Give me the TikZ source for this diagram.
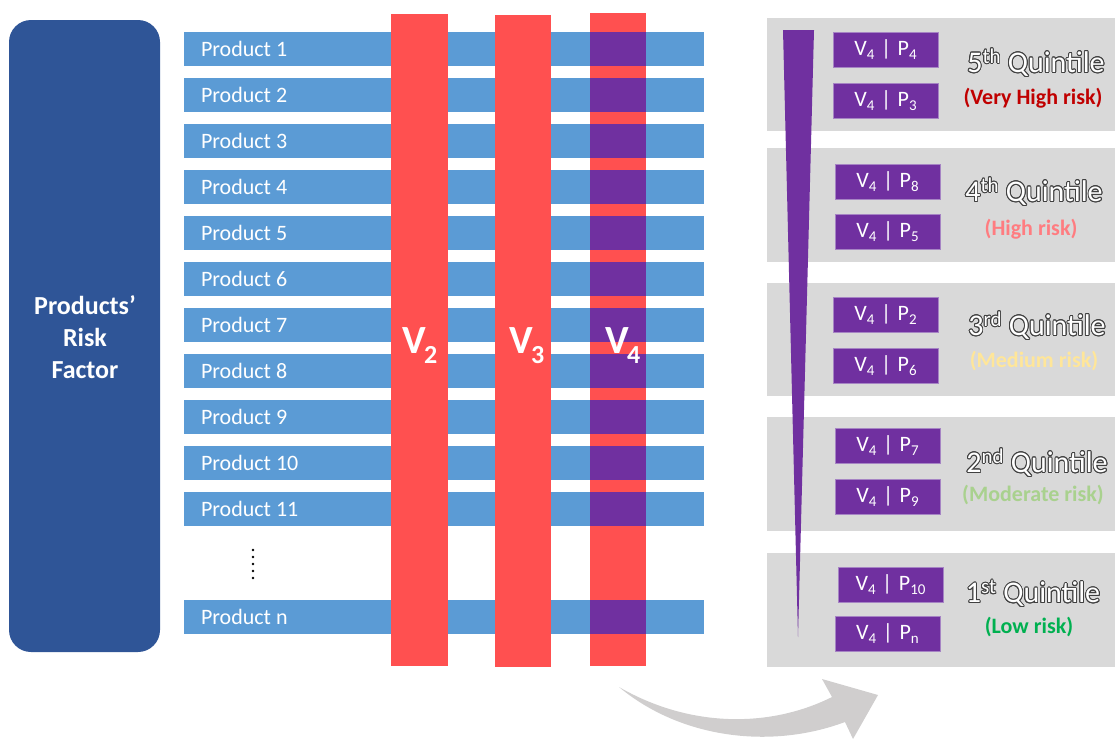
\documentclass[tikz,border=0pt]{standalone}
\usepackage{fontspec}
\setmainfont{Carlito}
\usepackage[copies]{contour}
\contourlength{0.9pt}
\contournumber{16}
\definecolor{barblue}{HTML}{5B9BD5}
\definecolor{darkblue}{HTML}{2F5597}
\definecolor{colred}{HTML}{FF5050}
\definecolor{vpurple}{HTML}{7030A0}
\definecolor{boxedge}{HTML}{A684C4}
\definecolor{panelgray}{HTML}{D9D9D9}
\definecolor{arrowgray}{HTML}{D0CECE}
\definecolor{outl}{HTML}{404040}
\definecolor{rVH}{HTML}{C00000}
\definecolor{rH}{HTML}{FF7C80}
\definecolor{rM}{HTML}{FFE699}
\definecolor{rMo}{HTML}{A9D18E}
\definecolor{rL}{HTML}{00B050}
\newcommand{\bsub}[1]{\raisebox{-4pt}{\fontsize{15}{15}\selectfont #1}}
\newcommand{\vp}[1]{V\bsub{4}\hspace{0.3em}|\hspace{0.3em}P\bsub{#1}}
\newcommand{\vsub}[1]{V\kern-1.5pt\raisebox{-10pt}{\fontsize{26}{26}\selectfont #1}}
\begin{document}
\begin{tikzpicture}[x=1pt,y=-1pt, every node/.style={inner sep=0pt, outer sep=0pt}]
\useasboundingbox (0,0) rectangle (1115,740);
\tikzset{
 bar/.style={fill=barblue, minimum width=520pt, minimum height=34pt, anchor=north west},
 prod/.style={text=white, font=\fontsize{22}{26}\selectfont, anchor=west},
 col/.style={fill=colred, minimum height=652pt, anchor=north west},
 inter/.style={fill=vpurple, minimum width=56pt, minimum height=34pt, anchor=north west},
 vlab/.style={text=white, font=\fontsize{40}{40}\selectfont\bfseries, anchor=base west},
 panel/.style={fill=panelgray, minimum width=348pt, minimum height=113pt, anchor=north west},
 vbox/.style={fill=vpurple, draw=boxedge, line width=0.7pt, minimum width=105pt, minimum height=35pt, anchor=north west, text=white, font=\fontsize{22}{22}\selectfont},
 quint/.style={text=white, font=\fontsize{30}{30}\selectfont},
 risk/.style={font=\fontsize{22}{22}\selectfont\bfseries},
}
% left box
\node[fill=darkblue, rounded corners=22pt, minimum width=151pt, minimum height=632pt, anchor=north west] (rf) at (9,20) {};
\node[text=white, align=center, font=\fontsize{26}{32}\selectfont\bfseries] (rftxt) at (85,337) {Products’\\Risk\\Factor};
% product bars
\foreach \k in {1,...,11}{
  \node[bar] (p\k) at (184,{32+46*(\k-1)}) {};
  \node[prod] (pt\k) at ([xshift=17pt]p\k.west) {Product \k};
}
\node[bar] (pn) at (184,600) {};
\node[prod] (ptn) at ([xshift=17pt]pn.west) {Product n};
% dots
\foreach \d [count=\i] in {550,557,564,571,578}{
  \fill (253,\d) circle (1.4pt) coordinate (dot\i);
}
% red columns
\node[col, minimum width=57pt] (c2) at (391,14) {};
\node[col, minimum width=56pt] (c3) at (495,15) {};
\node[col, minimum width=56pt, minimum height=653pt] (c4) at (590,13) {};
% purple intersections
\foreach \k in {1,...,11}{
  \node[inter] (i\k) at (590,{32+46*(\k-1)}) {};
}
\node[inter] (in) at (590,600) {};
% V labels
\node[vlab] (v2) at (402,353) {\vsub{2}};
\node[vlab] (v3) at (509,353) {\vsub{3}};
\node[vlab] (v4) at (605,353) {\vsub{4}};
% panels
\node[panel] (q5) at (767,18) {};
\node[panel, minimum height=114pt] (q4) at (767,148) {};
\node[panel] (q3) at (767,283) {};
\node[panel, minimum height=114pt] (q2) at (767,417) {};
\node[panel, minimum height=114pt] (q1) at (767,553) {};
% wedge
\fill[vpurple] (783,30) -- (814,30) -- (798,637) -- cycle;
% boxes
\node[vbox] (b1) at (833,32) {\vp{4}};
\node[vbox] (b2) at (833,83) {\vp{3}};
\node[vbox] (b3) at (835,164) {\vp{8}};
\node[vbox] (b4) at (835,214) {\vp{5}};
\node[vbox] (b5) at (833,297) {\vp{2}};
\node[vbox] (b6) at (833,348) {\vp{6}};
\node[vbox] (b7) at (835,428) {\vp{7}};
\node[vbox] (b8) at (835,479) {\vp{9}};
\node[vbox] (b9) at (838,567) {\vp{10}};
\node[vbox] (b10) at (835,616) {\vp{n}};
% quintile titles
\node[quint] (t5) at (1036,63) {\contour{outl}{5\textsuperscript{th} Quintile}};
\node[quint] (t4) at (1034,192) {\contour{outl}{4\textsuperscript{th} Quintile}};
\node[quint] (t3) at (1037,326) {\contour{outl}{3\textsuperscript{rd} Quintile}};
\node[quint] (t2) at (1037,463) {\contour{outl}{2\textsuperscript{nd} Quintile}};
\node[quint] (t1) at (1033,594) {\contour{outl}{1\textsuperscript{st} Quintile}};
% risk labels
\node[risk, text=rVH] (r5) at (1033,98) {(Very High risk)};
\node[risk, text=rH] (r4) at (1031,229) {(High risk)};
\node[risk, text=rM] (r3) at (1034,361) {(Medium risk)};
\node[risk, text=rMo] (r2) at (1033,495) {(Moderate risk)};
\node[risk, text=rL] (r1) at (1029,627) {(Low risk)};
% curved arrow
\fill[arrowgray] (619,687) .. controls (690,728) and (770,728) .. (832,697) -- (822,679) -- (878,695) -- (853,739) -- (845,722) .. controls (770,750) and (680,738) .. (619,687) -- cycle;
\end{tikzpicture}
\end{document}
